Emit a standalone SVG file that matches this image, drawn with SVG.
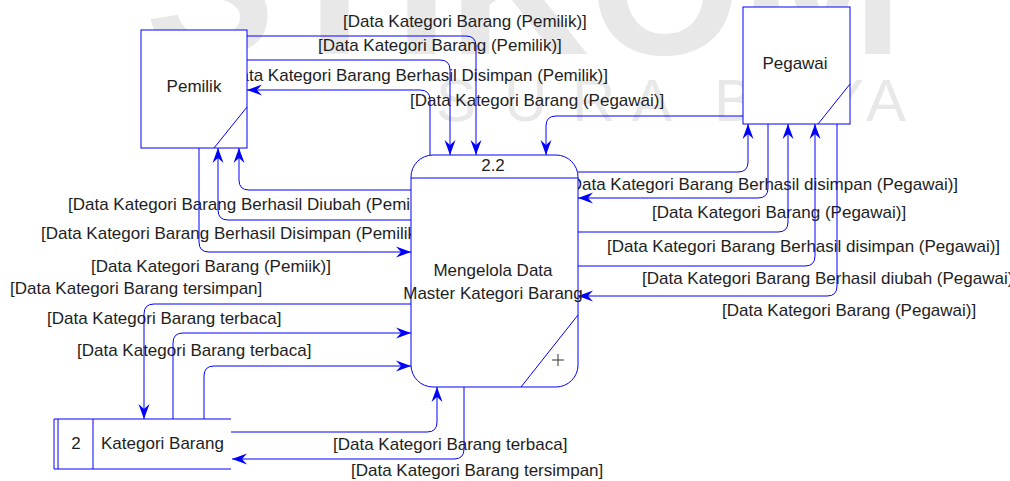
<svg xmlns="http://www.w3.org/2000/svg" width="1010" height="481" viewBox="0 0 1010 481">
<style>
.t{font-family:"Liberation Sans",Arial,sans-serif;font-size:17px;fill:#1e1e1e}
.wm{font-family:"Liberation Sans",Arial,sans-serif;fill:#e8e8e8}
.c{fill:none;stroke:#0000ff;stroke-width:1}
.n{fill:#ffffff;stroke:#0000ff;stroke-width:1}
.l{fill:none;stroke:#0000ff;stroke-width:1}
</style>
<defs>
<marker id="a" markerUnits="userSpaceOnUse" markerWidth="18" markerHeight="14" viewBox="-16 -7 17 14" refX="0" refY="0" orient="auto">
<path d="M0,0 L-15,-5.5 L-10,0 L-15,5.5 Z" fill="#0000ff"/>
</marker>
</defs>
<rect width="1010" height="481" fill="#ffffff"/>
<g id="watermark">
<text class="wm" font-size="195" font-weight="bold" x="145" y="54">STIKOM</text>
<text class="wm" font-size="60" y="121"><tspan x="436">S</tspan><tspan x="504">U</tspan><tspan x="572">R</tspan><tspan x="632">A</tspan><tspan x="714">B</tspan><tspan x="778">A</tspan><tspan x="824">Y</tspan><tspan x="866">A</tspan></text>
</g>
<g id="labels">
<text class="t" x="343" y="27">[Data Kategori Barang (Pemilik)]</text>
<text class="t" x="318" y="51">[Data Kategori Barang (Pemilik)]</text>
<text class="t" x="608" y="81" text-anchor="end">[Data Kategori Barang Berhasil Disimpan (Pemilik)]</text>
<text class="t" x="410" y="106">[Data Kategori Barang (Pegawai)]</text>
<text class="t" x="565" y="190">[Data Kategori Barang Berhasil disimpan (Pegawai)]</text>
<text class="t" x="652" y="218">[Data Kategori Barang (Pegawai)]</text>
<text class="t" x="607" y="252">[Data Kategori Barang Berhasil disimpan (Pegawai)]</text>
<text class="t" x="642" y="284">[Data Kategori Barang Berhasil diubah (Pegawai)]</text>
<text class="t" x="722" y="316">[Data Kategori Barang (Pegawai)]</text>
<text class="t" x="68" y="210">[Data Kategori Barang Berhasil Diubah (Pemilik)]</text>
<text class="t" x="41" y="239">[Data Kategori Barang Berhasil Disimpan (Pemilik)]</text>
<text class="t" x="91" y="272">[Data Kategori Barang (Pemiik)]</text>
<text class="t" x="10" y="294">[Data Kategori Barang tersimpan]</text>
<text class="t" x="47" y="324">[Data Kategori Barang terbaca]</text>
<text class="t" x="77" y="356">[Data Kategori Barang terbaca]</text>
<text class="t" x="333" y="450">[Data Kategori Barang terbaca]</text>
<text class="t" x="351" y="476">[Data Kategori Barang tersimpan]</text>
</g>
<g id="connectors" marker-end="url(#a)">
<path class="c" d="M247,36 H466 Q476,36 476,46 V155"/>
<path class="c" d="M247,60 H440 Q450,60 450,70 V155"/>
<path class="c" d="M430,156 V100 Q430,90 420,90 H247"/>
<path class="c" d="M743,116 H556 Q546,116 546,126 V155"/>
<path class="c" d="M578,172 H738 Q748,172 748,162 V124"/>
<path class="c" d="M768,124 V188 Q768,198 758,198 H578"/>
<path class="c" d="M578,232 H778 Q788,232 788,222 V124"/>
<path class="c" d="M578,266 H805 Q815,266 815,256 V124"/>
<path class="c" d="M837,124 V286 Q837,296 827,296 H578"/>
<path class="c" d="M411,190 H249 Q239,190 239,180 V148"/>
<path class="c" d="M411,220 H228 Q218,220 218,210 V148"/>
<path class="c" d="M199,148 V242 Q199,252 209,252 H411"/>
<path class="c" d="M411,304 H154 Q144,304 144,314 V419"/>
<path class="c" d="M173,419 V343 Q173,333 183,333 H411"/>
<path class="c" d="M204,419 V376 Q204,366 214,366 H411"/>
<path class="c" d="M231,432 H427 Q437,432 437,422 V387"/>
<path class="c" d="M464,387 V449 Q464,459 454,459 H232"/>
</g>
<g id="pemilik">
<rect class="n" x="141" y="30" width="106" height="118"/>
<line class="l" x1="247" y1="107" x2="214" y2="148"/>
<text class="t" x="194" y="92" text-anchor="middle">Pemilik</text>
</g>
<g id="pegawai">
<rect class="n" x="743" y="7" width="107" height="117"/>
<line class="l" x1="850" y1="84" x2="818" y2="124"/>
<text class="t" x="795" y="69" text-anchor="middle">Pegawai</text>
</g>
<g id="process">
<rect class="n" x="411" y="155" width="167" height="232" rx="22" ry="22"/>
<line class="l" x1="411" y1="178" x2="578" y2="178"/>
<line class="l" x1="578" y1="315" x2="521" y2="387"/>
<path d="M552,360 H564 M558,354 V366" fill="none" stroke="#333333" stroke-width="1"/>
<text class="t" x="493" y="171" text-anchor="middle">2.2</text>
<text class="t" x="493" y="276" text-anchor="middle">Mengelola Data</text>
<text class="t" x="493" y="299" text-anchor="middle">Master Kategori Barang</text>
</g>
<g id="store">
<path class="l" d="M231,419 H54 V469 H231 M58,419 V469 M93,419 V469"/>
<text class="t" x="76" y="449" text-anchor="middle">2</text>
<text class="t" x="101" y="449">Kategori Barang</text>
</g>
</svg>
